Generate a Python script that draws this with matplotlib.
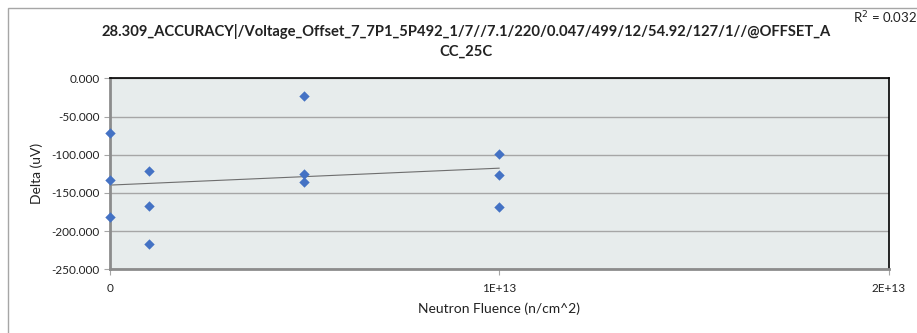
import matplotlib
matplotlib.use("Agg")
import matplotlib.pyplot as plt
import numpy as np
from matplotlib.patches import Rectangle

plt.rcParams['font.family'] = ['Lato', 'DejaVu Sans']

fluence = [0, 0, 0, 1e12, 1e12, 1e12, 5e12, 5e12, 5e12, 1e13, 1e13, 1e13]
delta = [-72.0, -133.5, -181.0, -121.7, -166.7, -216.8, -23.6, -125.7, -136.2, -98.6, -127.0, -168.4]
y_ticks = [0, -50, -100, -150, -200, -250]
x_ticks = [0, 1e13, 2e13]
x_tick_labels = ["0", "1E+13", "2E+13"]
title = "28.309_ACCURACY|/Voltage_Offset_7_7P1_5P492_1/7//7.1/220/0.047/499/12/54.92/127/1//@OFFSET_A\nCC_25C"
r2_text = "R$^2$ = 0.032"

W, H = 917, 333
fig = plt.figure(figsize=(W / 100, H / 100), dpi=100)
left, right, top, bottom = 109.7, 888.5, 78.3, 269.3
ax = fig.add_axes([left / W, 1 - bottom / H, (right - left) / W, (bottom - top) / H])

# chart area border (only top & left visible)
fig.patches.append(Rectangle((7.5 / W, -0.1), 1.2, (H - 7.5) / H + 0.1, transform=fig.transFigure,
                             fill=False, edgecolor='#a6a6a6', linewidth=1.0))

ax.set_facecolor('#e7ecec')
ax.scatter(fluence, delta, marker='D', s=28, color='#4472c4', zorder=3, linewidths=0, clip_on=False)

x = np.array(fluence)
y = np.array(delta)
m, b = np.polyfit(x, y, 1)
xl = np.array([0, 1e13])
ax.plot(xl, m * xl + b, color='#6e6e6e', linewidth=0.8, zorder=2)

ax.set_xlim(0, 2e13)
ax.set_ylim(-250, 0)
ax.set_yticks(y_ticks)
ax.set_yticklabels([f"{v:.3f}" for v in y_ticks], fontsize=8.5)
ax.set_xticks(x_ticks)
ax.set_xticklabels(x_tick_labels, fontsize=8.5)
ax.yaxis.grid(True, color='#a6a6a6', linewidth=1.0)
ax.set_axisbelow(True)

ax.spines['top'].set_color('black')
ax.spines['top'].set_linewidth(1.2)
ax.spines['right'].set_color('black')
ax.spines['right'].set_linewidth(1.2)
ax.spines['left'].set_color('#8c8c8c')
ax.spines['left'].set_linewidth(2.0)
ax.spines['bottom'].set_color('#8c8c8c')
ax.spines['bottom'].set_linewidth(2.0)
ax.tick_params(axis='both', length=4, width=0.8, color='#a6a6a6', labelcolor='#222222')
ax.tick_params(axis='x', pad=6)
ax.tick_params(axis='y', pad=3)

ax.set_ylabel("Delta (uV)", fontsize=10, color='#222222', labelpad=6)
ax.set_xlabel("Neutron Fluence (n/cm^2)", fontsize=10, color='#222222', labelpad=6)

fig.text(466 / W, 1 - 41.5 / H, title, ha='center', va='center', fontsize=10.6, fontweight='bold',
         color='#222222', linespacing=1.55)
fig.text(885 / W, 1 - 18 / H, r2_text, ha='center', va='center', fontsize=9.5, color='#222222')

fig.savefig("out.png", dpi=100)
